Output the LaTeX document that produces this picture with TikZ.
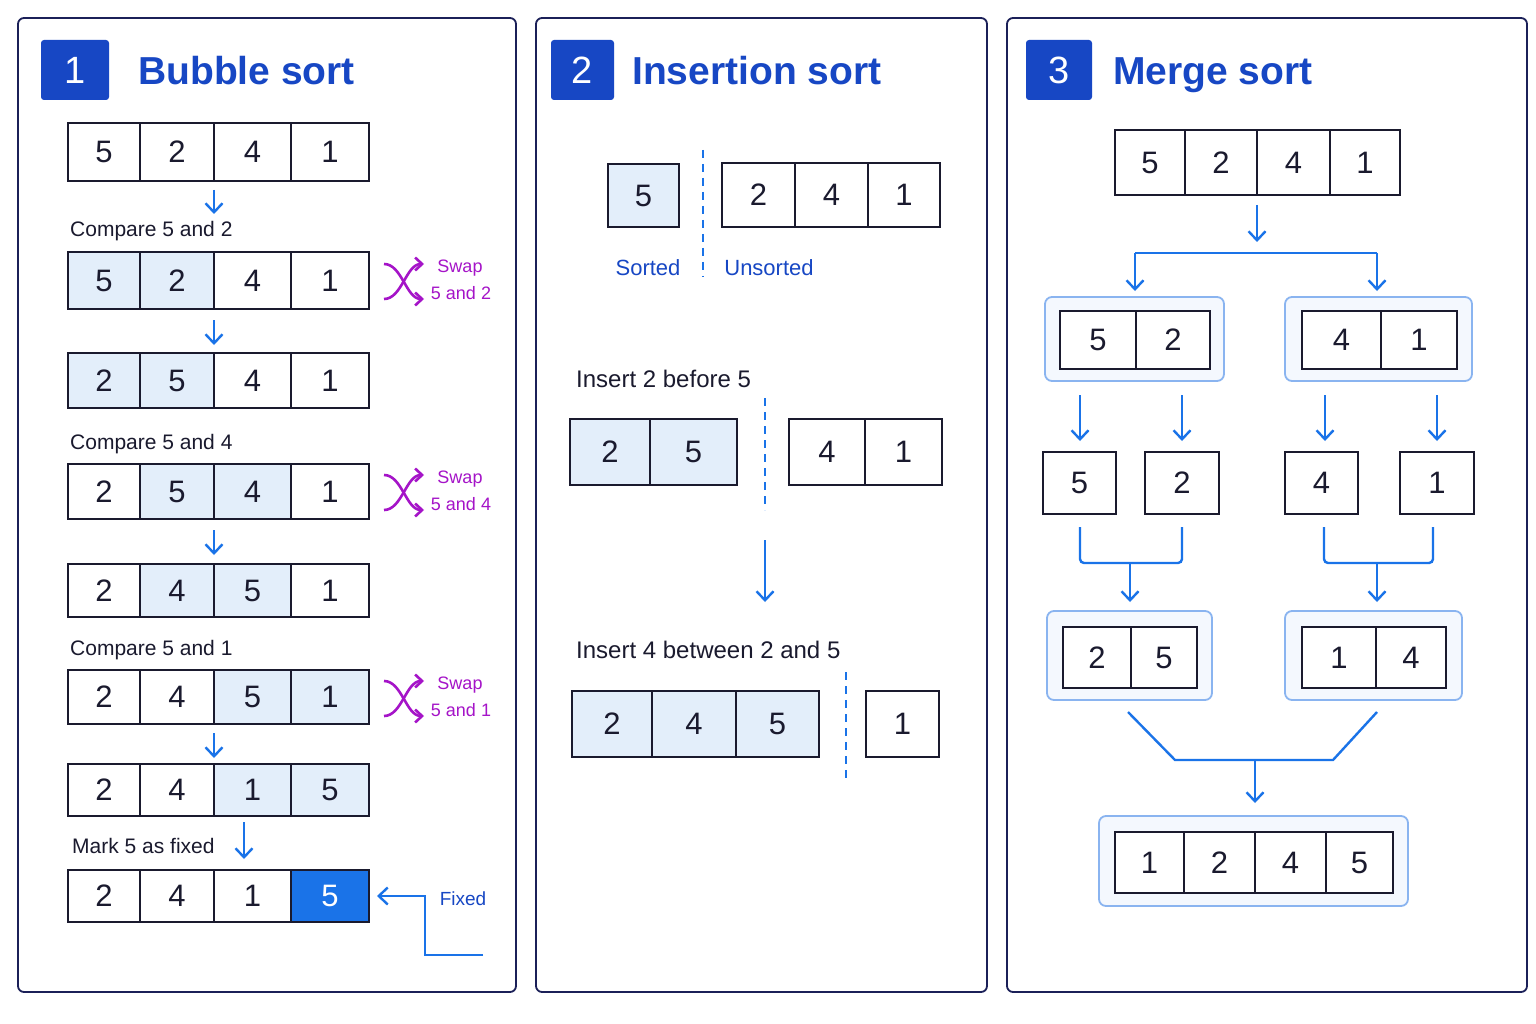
\documentclass[tikz,border=0pt]{standalone}
\usepackage{fontspec}
\setmainfont{Liberation Sans}
\usetikzlibrary{arrows.meta,calc}
\definecolor{navy}{HTML}{1B2058}
\definecolor{bblue}{HTML}{1747C4}
\definecolor{ablue}{HTML}{1A73E8}
\definecolor{lfill}{HTML}{E3EEFA}
\definecolor{gline}{HTML}{8AB4F0}
\definecolor{gfill}{HTML}{F4F8FE}
\definecolor{purp}{HTML}{A514C8}
\definecolor{txt}{HTML}{1A1A2E}
\newcommand\mycell[7]{%
  \pgfmathsetmacro\cx{(#2+#3)/2}\pgfmathsetmacro\cy{(#4+#5)/2}%
  \pgfmathsetmacro\cw{#3-#2}\pgfmathsetmacro\ch{#5-#4}%
  \node[cell,#6,minimum width=\cw pt,minimum height=\ch pt] (#1) at (\cx,\cy) {#7};}
\newcommand\brow[4]{%
  \foreach \i/\v/\s in {#4}{%
    \pgfmathsetmacro\xa{{68,140,214,291,369}[\i-1]}%
    \pgfmathsetmacro\xb{{68,140,214,291,369}[\i]}%
    \mycell{#1c\i}{\xa}{\xb}{#2}{#3}{\s}{\v}}}
\begin{document}
\begin{tikzpicture}[x=1pt,y=-1pt,
  cell/.style={draw=txt,line width=1.6pt,inner sep=0pt,outer sep=0pt,font=\fontsize{31}{31}\selectfont,text=txt},
  w/.style={fill=white},
  l/.style={fill=lfill},
  d/.style={fill=ablue,text=white},
  panel/.style={draw=navy,line width=1.8pt,rounded corners=6pt,fill=white},
  badge/.style={fill=bblue,rounded corners=3pt,text=white,font=\fontsize{38}{38}\selectfont,minimum width=68pt,minimum height=60pt,inner sep=0pt},
  ttl/.style={text=bblue,font=\fontsize{39}{39}\selectfont\bfseries,anchor=base west,inner sep=0pt},
  lbl/.style={text=txt,font=\fontsize{21}{21}\selectfont,anchor=west,inner sep=0pt},
  blbl/.style={text=bblue,font=\fontsize{22}{22}\selectfont,inner sep=0pt},
  plbl/.style={text=purp,font=\fontsize{18}{18}\selectfont,inner sep=0pt},
  arr/.style={draw=ablue,line width=2.4pt,-{Straight Barb[length=9pt,width=17pt]}},
  ln/.style={draw=ablue,line width=2.4pt},
  dsh/.style={draw=ablue,line width=2pt,dash pattern=on 8pt off 6pt},
  grp/.style={draw=gline,line width=1.8pt,rounded corners=7pt,fill=gfill,inner sep=0pt,outer sep=0pt},
  swp/.style={draw=purp,line width=2.6pt,-{Straight Barb[length=7pt,width=13pt]}}]
\useasboundingbox (0,0) rectangle (1536,1024);
\fill[white] (0,0) rectangle (1536,1024);
% panels
\node[panel,minimum width=498pt,minimum height=974pt] (p1) at (267,505) {};
\node[panel,minimum width=451pt,minimum height=974pt] (p2) at (761.5,505) {};
\node[panel,minimum width=520pt,minimum height=974pt] (p3) at (1267,505) {};
% badges and titles
\node[badge] (b1) at (75,70) {1};
\node[ttl] (t1) at (138,85) {Bubble sort};
\node[badge,minimum width=63pt] (b2) at (582.5,70) {2};
\node[ttl] (t2) at (632,85) {Insertion sort};
\node[badge,minimum width=66pt] (b3) at (1059,70) {3};
\node[ttl] (t3) at (1113,85) {Merge sort};
% ---- panel 1
\brow{ra}{123}{181}{1/5/w,2/2/w,3/4/w,4/1/w}
\brow{rb}{252}{309}{1/5/l,2/2/l,3/4/w,4/1/w}
\brow{rc}{353}{408}{1/2/l,2/5/l,3/4/w,4/1/w}
\brow{rd}{464}{519}{1/2/w,2/5/l,3/4/l,4/1/w}
\brow{re}{564}{617}{1/2/w,2/4/l,3/5/l,4/1/w}
\brow{rf}{670}{724}{1/2/w,2/4/w,3/5/l,4/1/l}
\brow{rg}{764}{816}{1/2/w,2/4/w,3/1/l,4/5/l}
\brow{rh}{870}{922}{1/2/w,2/4/w,3/1/w,4/5/d}
\coordinate (aa1) at (214,190); \coordinate (aa2) at (214,214);
\coordinate (ab1) at (214,320); \coordinate (ab2) at (214,345);
\coordinate (ac1) at (214,530); \coordinate (ac2) at (214,555);
\coordinate (ad1) at (214,733); \coordinate (ad2) at (214,758);
\coordinate (ae1) at (244,822); \coordinate (ae2) at (244,859);
\foreach \n in {a,b,c,d,e}{\draw[arr] (a\n1) -- (a\n2);}
\node[lbl] (c1) at (70,231) {Compare 5 and 2};
\node[lbl] (c2) at (70,444) {Compare 5 and 4};
\node[lbl] (c3) at (70,650) {Compare 5 and 1};
\node[lbl] (c4) at (72,846) {Mark 5 as fixed};
\foreach \y/\k/\m in {281/a/2,492/b/4,698/c/1}{
  \coordinate (s\k1) at (384,\y-17); \coordinate (s\k2) at (424,\y+18);
  \coordinate (s\k3) at (384,\y+18); \coordinate (s\k4) at (424,\y-17);
  \draw[swp] (s\k1) .. controls (402,\y-17) and (406,\y+18) .. (s\k2);
  \draw[swp] (s\k3) .. controls (402,\y+18) and (406,\y-17) .. (s\k4);
  \node[plbl] (sw\k) at (460,\y-13) {Swap};
  \node[plbl] (sn\k) at (461,\y+12) {5 and \m};
}
\coordinate (fx1) at (483,955); \coordinate (fx2) at (425,955); \coordinate (fx3) at (425,896);
\draw[arr] (fx1) -- (fx2) -- (fx3) -- ([xshift=8pt]rhc4.east);
\node[blbl,font=\fontsize{19}{19}\selectfont] (fxl) at (463,899) {Fixed};
% ---- panel 2
\mycell{i1}{608}{679}{164}{227}{l}{5}
\mycell{i2}{722}{795}{163}{227}{w}{2}
\mycell{i3}{795}{868}{163}{227}{w}{4}
\mycell{i4}{868}{940}{163}{227}{w}{1}
\coordinate (d1a) at (703,150); \coordinate (d1b) at (703,277);
\draw[dsh] (d1a) -- (d1b);
\node[blbl] (so) at (648,268) {Sorted};
\node[blbl] (us) at (769,268) {Unsorted};
\node[lbl,font=\fontsize{24}{24}\selectfont] (ins1) at (576,379) {Insert 2 before 5};
\mycell{j1}{570}{650}{419}{485}{l}{2}
\mycell{j2}{650}{737}{419}{485}{l}{5}
\mycell{j3}{789}{865}{419}{485}{w}{4}
\mycell{j4}{865}{942}{419}{485}{w}{1}
\coordinate (d2a) at (765,398); \coordinate (d2b) at (765,510);
\draw[dsh] (d2a) -- (d2b);
\coordinate (m1) at (765,540); \coordinate (m2) at (765,602);
\draw[arr] (m1) -- (m2);
\node[lbl,font=\fontsize{24}{24}\selectfont] (ins2) at (576,650) {Insert 4 between 2 and 5};
\mycell{k1}{572}{652}{691}{757}{l}{2}
\mycell{k2}{652}{736}{691}{757}{l}{4}
\mycell{k3}{736}{819}{691}{757}{l}{5}
\mycell{k4}{866}{939}{691}{757}{w}{1}
\coordinate (d3a) at (846,672); \coordinate (d3b) at (846,783);
\draw[dsh] (d3a) -- (d3b);
% ---- panel 3
\mycell{u1}{1115}{1185}{130}{195}{w}{5}
\mycell{u2}{1185}{1257}{130}{195}{w}{2}
\mycell{u3}{1257}{1330}{130}{195}{w}{4}
\mycell{u4}{1330}{1400}{130}{195}{w}{1}
\coordinate (q0) at (1257,205); \coordinate (q1) at (1257,242);
\draw[arr] (q0) -- (q1);
\coordinate (q2) at (1257,253); \coordinate (q3) at (1135,253); \coordinate (q4) at (1377,253);
\coordinate (q5) at (1135,291); \coordinate (q6) at (1377,291);
\draw[ln] (q3) -- (q4);
\draw[arr] (q3) -- (q5); \draw[arr] (q4) -- (q6);
\node[grp,minimum width=179pt,minimum height=84pt] (g1) at (1134.5,339) {};
\node[grp,minimum width=187pt,minimum height=84pt] (g2) at (1378.5,339) {};
\mycell{v1}{1060}{1136}{311}{369}{w}{5}
\mycell{v2}{1136}{1210}{311}{369}{w}{2}
\mycell{v3}{1302}{1381}{311}{369}{w}{4}
\mycell{v4}{1381}{1457}{311}{369}{w}{1}
\foreach \x/\n in {1080/1,1182/2,1325/3,1437/4}{
  \coordinate (e\n a) at (\x,395); \coordinate (e\n b) at (\x,441);
  \draw[arr] (e\n a) -- (e\n b);}
\mycell{s1}{1043}{1116}{452}{514}{w}{5}
\mycell{s2}{1145}{1219}{452}{514}{w}{2}
\mycell{s3}{1285}{1358}{452}{514}{w}{4}
\mycell{s4}{1400}{1474}{452}{514}{w}{1}
\coordinate (h1) at (1080,527); \coordinate (h2) at (1182,527);
\coordinate (h3) at (1130,563); \coordinate (h4) at (1130,602);
\draw[ln,rounded corners=4pt] (h1) -- (1080,563) -- (1182,563) -- (h2);
\draw[arr] (h3) -- (h4);
\coordinate (h5) at (1324,527); \coordinate (h6) at (1433,527);
\coordinate (h7) at (1377,563); \coordinate (h8) at (1377,602);
\draw[ln,rounded corners=4pt] (h5) -- (1324,563) -- (1433,563) -- (h6);
\draw[arr] (h7) -- (h8);
\node[grp,minimum width=165pt,minimum height=89pt] (g3) at (1129.5,655.5) {};
\node[grp,minimum width=177pt,minimum height=89pt] (g4) at (1373.5,655.5) {};
\mycell{w1}{1063}{1131}{627}{688}{w}{2}
\mycell{w2}{1131}{1197}{627}{688}{w}{5}
\mycell{w3}{1302}{1376}{627}{688}{w}{1}
\mycell{w4}{1376}{1446}{627}{688}{w}{4}
\coordinate (f1) at (1128,712); \coordinate (f2) at (1377,712);
\coordinate (f3) at (1255,760); \coordinate (f4) at (1255,803);
\draw[ln] (f1) -- (1175,760) -- (1333,760) -- (f2);
\draw[arr] (f3) -- (f4);
\node[grp,minimum width=309pt,minimum height=90pt] (g5) at (1253.5,861) {};
\mycell{z1}{1115}{1184}{832}{893}{w}{1}
\mycell{z2}{1184}{1255}{832}{893}{w}{2}
\mycell{z3}{1255}{1326}{832}{893}{w}{4}
\mycell{z4}{1326}{1393}{832}{893}{w}{5}
\end{tikzpicture}
\end{document}
